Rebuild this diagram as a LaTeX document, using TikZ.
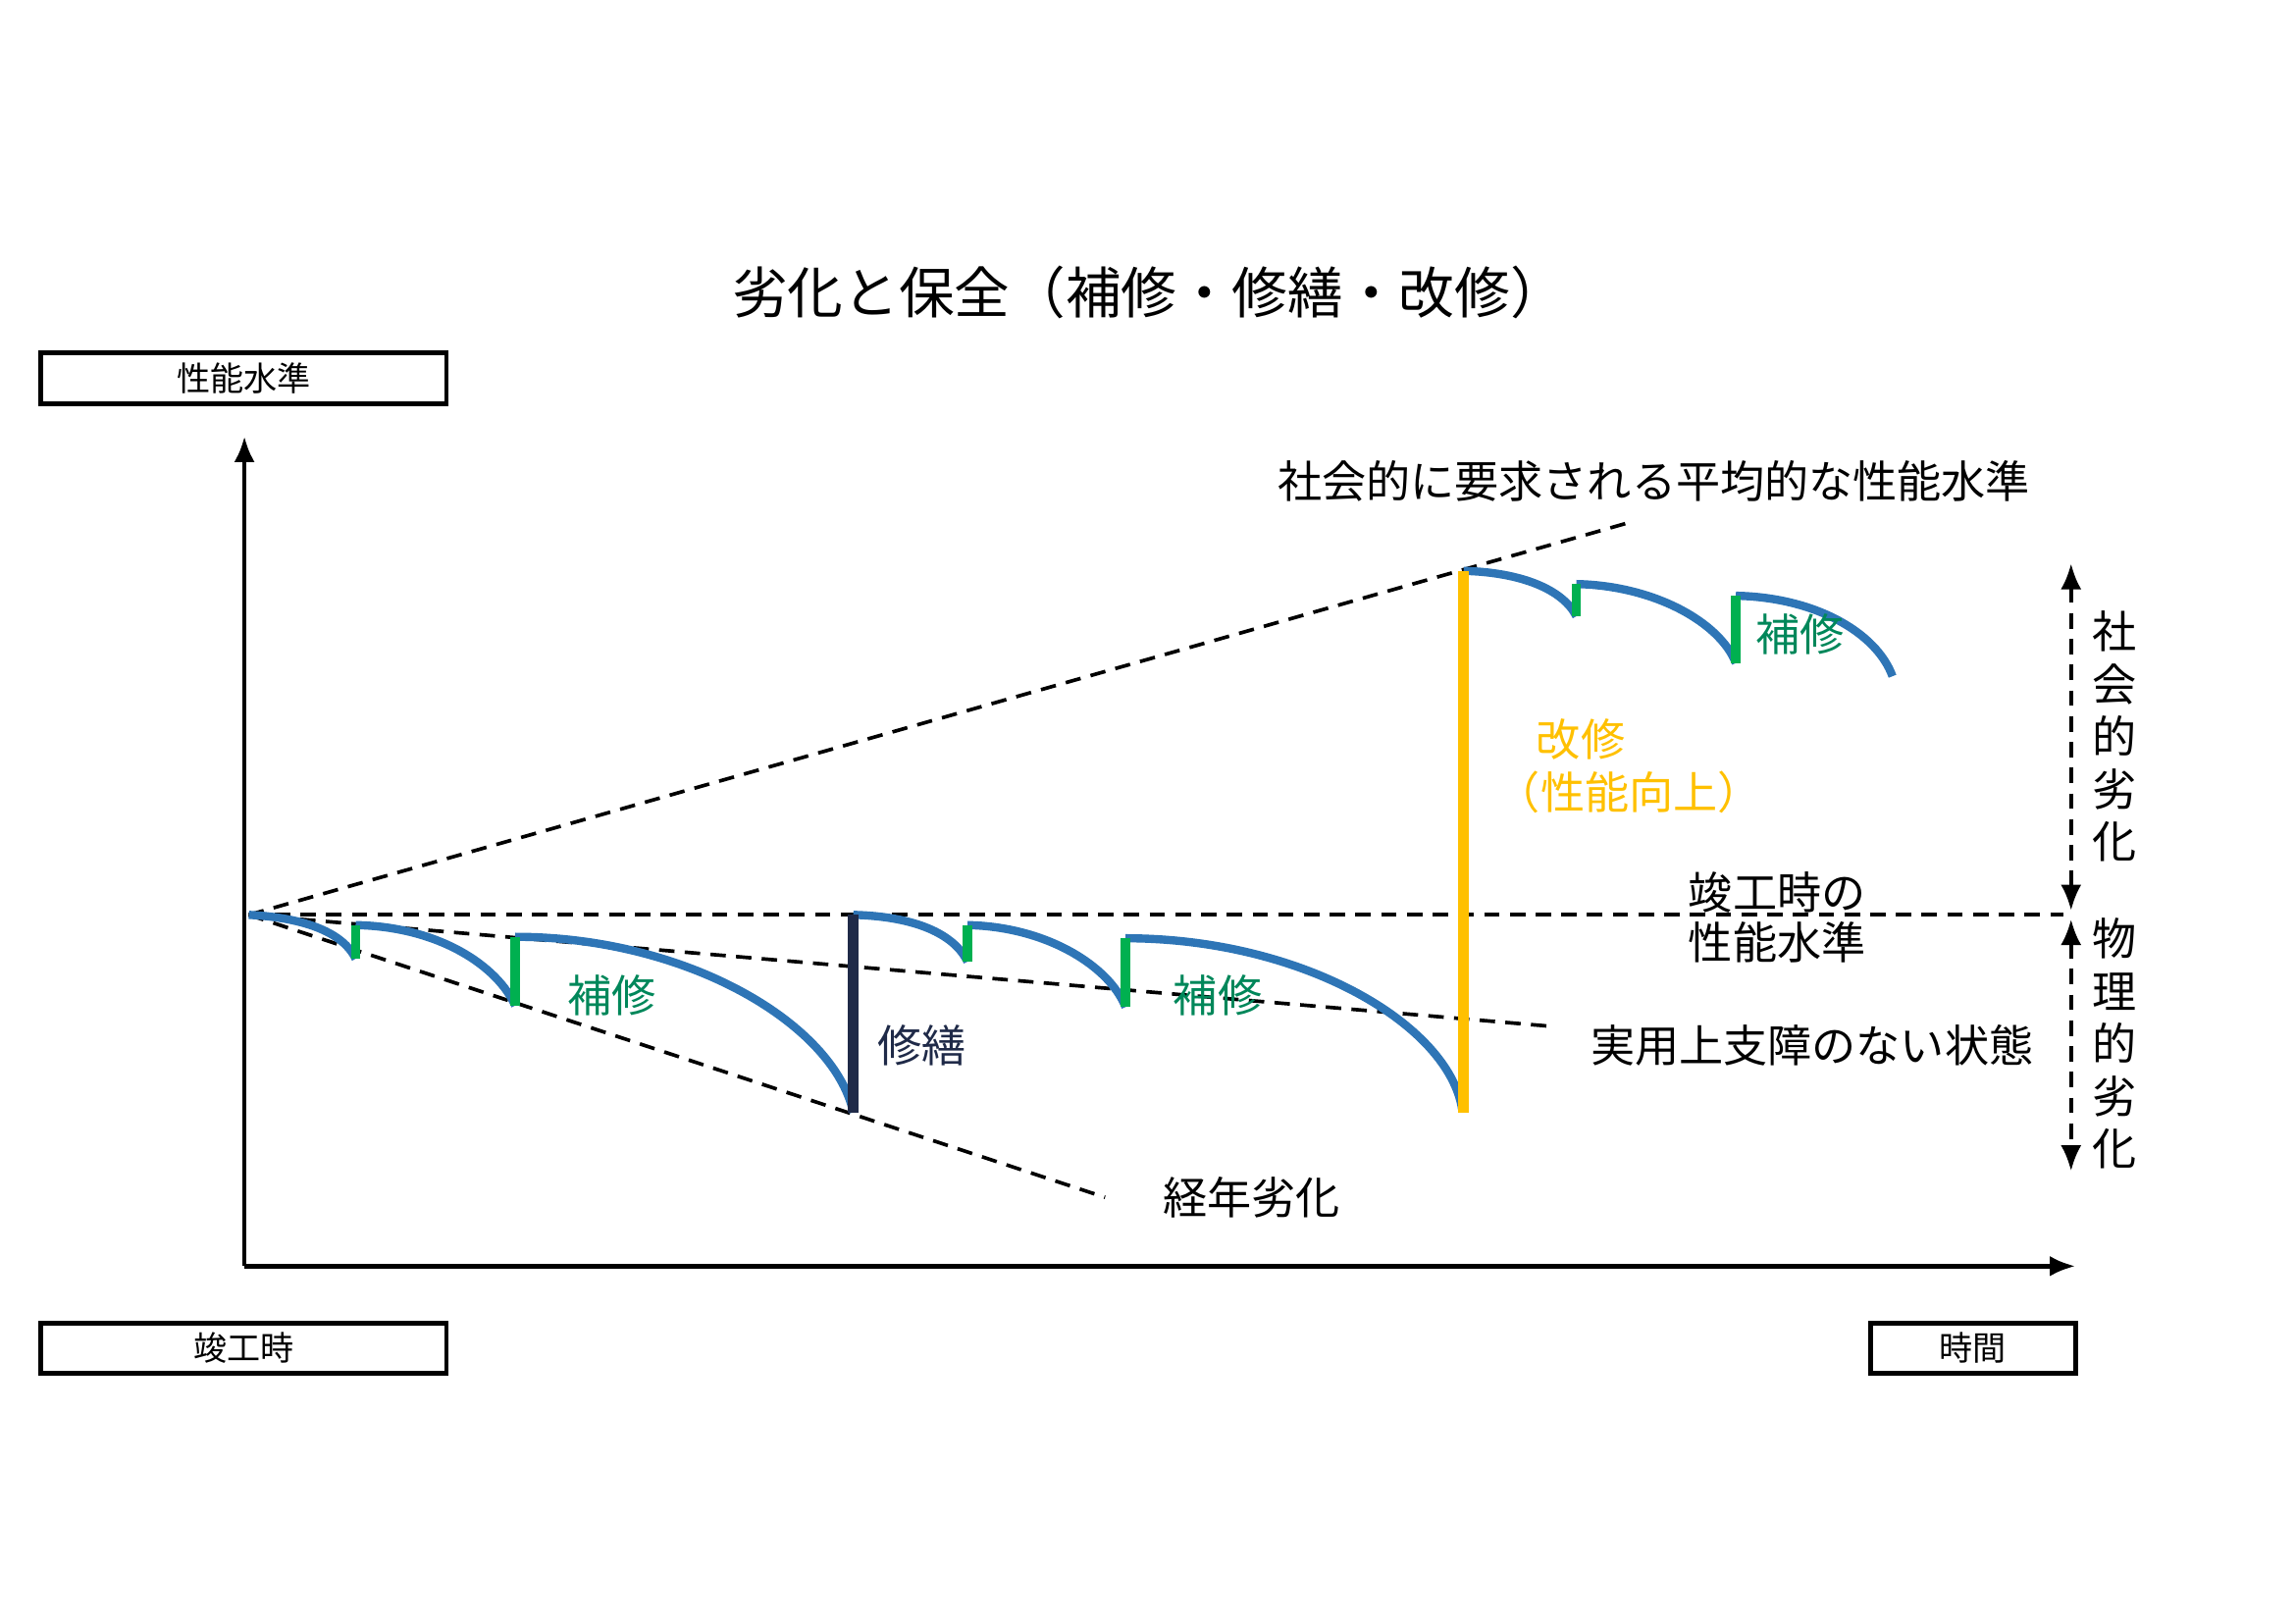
\documentclass[tikz,border=0pt]{standalone}
\usepackage{fontspec}
\setmainfont{Noto Sans CJK JP}
\usetikzlibrary{arrows.meta}
\definecolor{cblue}{HTML}{2E75B6}
\definecolor{cgreen}{HTML}{00B050}
\definecolor{tgreen}{HTML}{00875A}
\definecolor{corange}{HTML}{FFC000}
\definecolor{cnavy}{HTML}{1F2A48}
\begin{document}
\begin{tikzpicture}[x=0.01cm,y=-0.01cm,
  lbl/.style={font=\fontsize{8.6}{9}\selectfont,inner sep=0pt},
  boxl/.style={draw,line width=0.9pt,font=\fontsize{6.5}{7}\selectfont,inner sep=0pt},
  dsh/.style={dashed,line width=0.7pt,dash pattern=on 3pt off 2pt},
  crv/.style={cblue,line width=1.6pt},
  rep/.style={cgreen,line width=1.8pt},
  ax/.style={line width=0.9pt,-{Latex[length=5pt,width=4pt]}}]
\useasboundingbox (0,0) rectangle (1568,1109);
\node[lbl,font=\fontsize{10.8}{12}\selectfont] (title) at (785,200) {劣化と保全（補修・修繕・改修）};
\node[boxl,minimum width=2.77cm,minimum height=0.35cm] (b1) at (166.5,258.5) {性能水準};
\node[boxl,minimum width=2.77cm,minimum height=0.34cm] (b2) at (166.5,921) {竣工時};
\node[boxl,minimum width=1.40cm,minimum height=0.34cm] (b3) at (1348,921) {時間};
\coordinate (org) at (167,865);
\coordinate (ytop) at (167,298);
\coordinate (xend) at (1418,865);
\draw[ax] (org) -- (ytop);
\draw[ax] (org) -- (xend);
\coordinate (O) at (170,625);
\coordinate (u) at (1113,357);
\coordinate (h) at (1410,625);
\coordinate (p) at (1058,701);
\coordinate (g) at (755,818);
\draw[dsh] (O) -- (u);
\draw[dsh] (O) -- (h);
\draw[dsh] (O) -- (p);
\draw[dsh] (O) -- (g);
% curves
\draw[crv] (170,625) .. controls (210,627) and (235,638) .. (243,655);
\draw[crv] (243,632) .. controls (300,633) and (340,660) .. (352,687);
\draw[crv] (352,640) .. controls (470,640) and (570,700) .. (583,760);
\draw[crv] (583,625) .. controls (625,626) and (652,638) .. (661,657);
\draw[crv] (661,632) .. controls (715,633) and (758,660) .. (769,688);
\draw[crv] (769,641) .. controls (890,641) and (990,700) .. (999,758);
\draw[crv] (1000,390) .. controls (1040,391) and (1068,403) .. (1077,421);
\draw[crv] (1077,399) .. controls (1130,400) and (1175,425) .. (1186,453);
\draw[crv] (1186,407) .. controls (1240,408) and (1282,432) .. (1293,462);
\draw[rep] (243,655) -- (243,632);
\draw[rep] (352,687) -- (352,640);
\draw[rep] (661,657) -- (661,632);
\draw[rep] (769,688) -- (769,641);
\draw[rep] (1077,421) -- (1077,399);
\draw[rep] (1186,453) -- (1186,407);
\draw[cnavy,line width=2.2pt] (583,760) -- (583,625);
\draw[corange,line width=2.2pt] (1000,760) -- (1000,390);
% labels
\node[lbl,text=tgreen] (r1) at (418,680) {補修};
\node[lbl,text=tgreen] (r2) at (832,680) {補修};
\node[lbl,text=tgreen] (r3) at (1230,433) {補修};
\node[lbl,text=cnavy] (s1) at (630,714) {修繕};
\node[lbl,text=corange] (k1) at (1080,505) {改修};
\node[lbl,text=corange] (k2) at (1113,541) {（性能向上）};
\node[lbl] (aging) at (855,818) {経年劣化};
\node[lbl,anchor=west] (c1) at (1153,610) {竣工時の};
\node[lbl,anchor=west] (c2) at (1153,644) {性能水準};
\node[lbl] (prac) at (1238,714) {実用上支障のない状態};
\node[lbl] (soc) at (1130,329) {社会的に要求される平均的な性能水準};
% right arrows
\coordinate (a1) at (1415,385);
\coordinate (a2) at (1415,622);
\coordinate (a3) at (1415,628);
\coordinate (a4) at (1415,800);
\draw[dsh,{Latex[length=5pt,width=4pt]}-{Latex[length=5pt,width=4pt]}] (a1) -- (a2);
\draw[dsh,{Latex[length=5pt,width=4pt]}-{Latex[length=5pt,width=4pt]}] (a3) -- (a4);
\node[lbl,align=center,font=\fontsize{8.6}{10.2}\selectfont] (v1) at (1445,503) {社\\会\\的\\劣\\化};
\node[lbl,align=center,font=\fontsize{8.6}{10.2}\selectfont] (v2) at (1445,713) {物\\理\\的\\劣\\化};
\end{tikzpicture}
\end{document}
